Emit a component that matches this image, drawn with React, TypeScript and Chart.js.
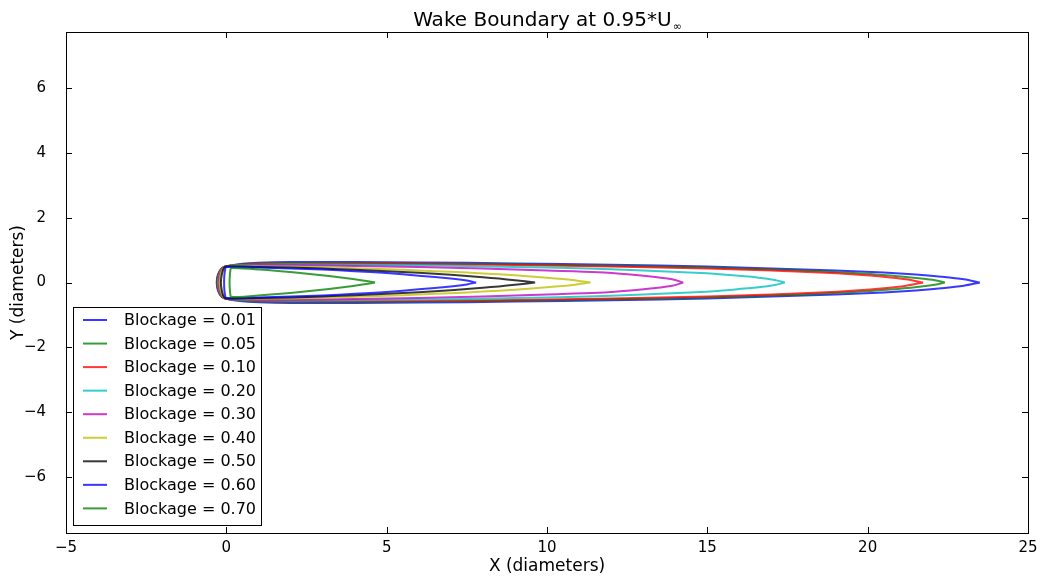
import React, { useEffect, useRef } from 'react';
import { Chart, registerables } from 'chart.js';

Chart.register(...registerables);

const TITLE_MAIN = 'Wake Boundary at 0.95*U';
const TITLE_SUB = '∞';
const X_LABEL = 'X (diameters)';
const Y_LABEL = 'Y (diameters)';

const xTicks = [-5, 0, 5, 10, 15, 20, 25];
const yTicks = [-6, -4, -2, 0, 2, 4, 6];
const xRange = [-5, 25];
const yRange = [-7.73, 7.73];

const blockageLabels = [
  'Blockage = 0.01',
  'Blockage = 0.05',
  'Blockage = 0.10',
  'Blockage = 0.20',
  'Blockage = 0.30',
  'Blockage = 0.40',
  'Blockage = 0.50',
  'Blockage = 0.60',
  'Blockage = 0.70',
];

const lineColors = [
  'rgba(0,0,255,0.78)',
  'rgba(0,128,0,0.78)',
  'rgba(255,0,0,0.78)',
  'rgba(0,191,191,0.78)',
  'rgba(191,0,191,0.78)',
  'rgba(191,191,0,0.78)',
  'rgba(0,0,0,0.78)',
  'rgba(0,0,255,0.78)',
  'rgba(0,128,0,0.78)',
];

// front (upstream) edge of each wake loop: nose on the centreline and two arc points
const frontX = [-0.3, -0.29, -0.28, -0.26, -0.24, -0.21, -0.17, -0.07, 0.1];
const frontArcX1 = [-0.26, -0.25, -0.24, -0.22, -0.2, -0.18, -0.14, -0.06, 0.11];
const frontArcY1 = [0.25, 0.25, 0.25, 0.25, 0.25, 0.25, 0.25, 0.25, 0.22];
const frontArcX2 = [-0.14, -0.14, -0.13, -0.12, -0.11, -0.1, -0.08, -0.03, 0.13];
const frontArcY2 = [0.44, 0.44, 0.44, 0.44, 0.44, 0.44, 0.44, 0.43, 0.4];

// upper branch of each wake boundary (mirror image below the axis)
const upperX001 = [0, 0.5, 1, 2, 4, 6, 9, 12, 15, 17, 19, 20.5, 21.5, 22.3, 23, 23.5];
const upperY001 = [0.5, 0.58, 0.61, 0.63, 0.63, 0.62, 0.59, 0.55, 0.49, 0.43, 0.37, 0.31, 0.25, 0.18, 0.1, 0];

const upperX005 = [0, 0.5, 1, 2, 4, 6, 9, 12, 15, 17, 18.5, 19.8, 20.8, 21.6, 22.1, 22.41];
const upperY005 = [0.5, 0.56, 0.59, 0.6, 0.6, 0.59, 0.56, 0.52, 0.46, 0.4, 0.35, 0.28, 0.21, 0.13, 0.07, 0];

const upperX010 = [0, 0.5, 1, 2, 4, 6, 9, 12, 15, 17, 18.5, 19.6, 20.5, 21.2, 21.73];
const upperY010 = [0.5, 0.55, 0.57, 0.58, 0.58, 0.57, 0.54, 0.49, 0.43, 0.37, 0.31, 0.25, 0.18, 0.1, 0];

const upperX020 = [0, 0.5, 1, 2, 4, 6, 9, 11, 13, 14.8, 15.8, 16.6, 17.1, 17.42];
const upperY020 = [0.5, 0.54, 0.55, 0.56, 0.55, 0.53, 0.48, 0.44, 0.37, 0.29, 0.22, 0.15, 0.08, 0];

const upperX030 = [0, 0.5, 1, 2, 4, 6, 8, 10, 11.6, 12.6, 13.3, 13.9, 14.25];
const upperY030 = [0.5, 0.52, 0.53, 0.53, 0.51, 0.48, 0.43, 0.37, 0.32, 0.25, 0.18, 0.1, 0];

const upperX040 = [0, 1, 2, 3, 4, 5, 6, 7, 8, 9, 10, 10.8, 11.36];
const upperY040 = [0.5, 0.5, 0.49, 0.47, 0.44, 0.41, 0.37, 0.33, 0.28, 0.22, 0.15, 0.08, 0];

const upperX050 = [0, 1, 2, 3, 4, 5, 6, 7, 8, 8.5, 9, 9.63];
const upperY050 = [0.5, 0.48, 0.46, 0.43, 0.39, 0.35, 0.3, 0.24, 0.16, 0.12, 0.07, 0];

const upperX060 = [0, 1, 2, 3, 4, 5, 6, 7, 7.5, 7.79];
const upperY060 = [0.48, 0.46, 0.43, 0.4, 0.35, 0.29, 0.21, 0.12, 0.06, 0];

const upperX070 = [0.15, 0.9, 1.7, 2.45, 3.2, 3.7, 4.2, 4.64];
const upperY070 = [0.45, 0.41, 0.35, 0.28, 0.2, 0.14, 0.07, 0];

const upperXs = [upperX001, upperX005, upperX010, upperX020, upperX030, upperX040, upperX050, upperX060, upperX070];
const upperYs = [upperY001, upperY005, upperY010, upperY020, upperY030, upperY040, upperY050, upperY060, upperY070];

function buildLoop(i: number) {
  const ux = upperXs[i];
  const uy = upperYs[i];
  const pts: { x: number; y: number }[] = [];
  for (let k = ux.length - 1; k >= 0; k--) pts.push({ x: ux[k], y: uy[k] });
  pts.push({ x: frontArcX2[i], y: frontArcY2[i] });
  pts.push({ x: frontArcX1[i], y: frontArcY1[i] });
  pts.push({ x: frontX[i], y: 0 });
  pts.push({ x: frontArcX1[i], y: -frontArcY1[i] });
  pts.push({ x: frontArcX2[i], y: -frontArcY2[i] });
  for (let k = 0; k < ux.length; k++) pts.push({ x: ux[k], y: -uy[k] });
  return pts;
}

const FONT = "'DejaVu Sans', 'Liberation Sans', sans-serif";

const fmt = (v: number) => (v < 0 ? '\u2212' + Math.abs(v) : String(v));

const decorPlugin = {
  id: 'decor',
  afterDraw(chart: any) {
    const { ctx, chartArea } = chart;
    const { left, right, top, bottom } = chartArea;
    const xs = chart.scales.x;
    const ys = chart.scales.y;
    ctx.save();
    // frame
    ctx.strokeStyle = '#000';
    ctx.lineWidth = 1;
    ctx.strokeRect(Math.round(left) + 0.5, Math.round(top) + 0.5, Math.round(right - left), Math.round(bottom - top));
    // inward ticks
    const tl = 6;
    ctx.beginPath();
    xTicks.forEach((v) => {
      const px = Math.round(xs.getPixelForValue(v)) + 0.5;
      ctx.moveTo(px, bottom);
      ctx.lineTo(px, bottom - tl);
      ctx.moveTo(px, top);
      ctx.lineTo(px, top + tl);
    });
    yTicks.forEach((v) => {
      const py = Math.round(ys.getPixelForValue(v)) + 0.5;
      ctx.moveTo(left, py);
      ctx.lineTo(left + tl, py);
      ctx.moveTo(right, py);
      ctx.lineTo(right - tl, py);
    });
    ctx.stroke();

    const cx = (left + right) / 2;
    // title
    ctx.fillStyle = '#000';
    ctx.font = `20px ${FONT}`;
    const mainW = ctx.measureText(TITLE_MAIN).width;
    ctx.font = `11px ${FONT}`;
    const subW = ctx.measureText(TITLE_SUB).width;
    const startX = cx - (mainW + subW) / 2;
    ctx.textBaseline = 'alphabetic';
    ctx.textAlign = 'left';
    ctx.font = `20px ${FONT}`;
    ctx.fillText(TITLE_MAIN, startX, 26);
    ctx.font = `11px ${FONT}`;
    ctx.fillText(TITLE_SUB, startX + mainW + 1, 30);

    // axis labels
    ctx.font = `17px ${FONT}`;
    ctx.textAlign = 'center';
    ctx.textBaseline = 'middle';
    ctx.fillText(X_LABEL, cx, 567);
    ctx.save();
    ctx.translate(19, (top + bottom) / 2);
    ctx.rotate(-Math.PI / 2);
    ctx.fillText(Y_LABEL, 0, 0);
    ctx.restore();

    // legend
    const bx = 73.5, by = 307.5, bw = 188, bh = 218;
    ctx.fillStyle = '#fff';
    ctx.fillRect(bx, by, bw, bh);
    ctx.strokeStyle = '#000';
    ctx.lineWidth = 1;
    ctx.strokeRect(bx, by, bw, bh);
    ctx.font = `16px ${FONT}`;
    ctx.textAlign = 'left';
    ctx.textBaseline = 'middle';
    chart.data.datasets.forEach((ds: any, i: number) => {
      const ry = 320 + i * 23.55;
      ctx.strokeStyle = ds.borderColor;
      ctx.lineWidth = 2;
      ctx.beginPath();
      ctx.moveTo(83, ry);
      ctx.lineTo(107, ry);
      ctx.stroke();
      ctx.fillStyle = '#000';
      ctx.fillText(ds.label, 124, ry + 1);
    });
    ctx.restore();
  },
};

export default function App() {
  const ref = useRef<HTMLCanvasElement | null>(null);
  useEffect(() => {
    if (!ref.current) return;
    const datasets = blockageLabels.map((label, i) => ({
      label,
      data: buildLoop(i),
      borderColor: lineColors[i],
      backgroundColor: lineColors[i],
      borderWidth: 2,
      pointRadius: 0,
      showLine: true,
      fill: false,
      tension: 0.3,
      order: -i,
    }));
    const chart = new Chart(ref.current, {
      type: 'scatter',
      data: { datasets },
      options: {
        responsive: false,
        animation: false,
        devicePixelRatio: 1,
        layout: { padding: { top: 32, right: 16, left: 0, bottom: 0 } },
        plugins: { legend: { display: false }, title: { display: false }, tooltip: { enabled: false } },
        scales: {
          x: {
            type: 'linear',
            min: xRange[0],
            max: xRange[1],
            grid: { display: false, drawTicks: false },
            border: { display: false },
            afterBuildTicks: (s: any) => {
              s.ticks = xTicks.map((v) => ({ value: v }));
            },
            afterFit: (s: any) => {
              s.height = 45;
            },
            ticks: {
              padding: 6,
              color: '#000',
              font: { family: FONT, size: 15 },
              maxRotation: 0,
              autoSkip: false,
              callback: (v: any) => fmt(Number(v)),
            },
          },
          y: {
            type: 'linear',
            min: yRange[0],
            max: yRange[1],
            grid: { display: false, drawTicks: false },
            border: { display: false },
            afterBuildTicks: (s: any) => {
              s.ticks = yTicks.map((v) => ({ value: v }));
            },
            afterFit: (s: any) => {
              s.width = 66;
            },
            ticks: {
              padding: 20,
              color: '#000',
              font: { family: FONT, size: 15 },
              autoSkip: false,
              callback: (v: any) => fmt(Number(v)),
            },
          },
        },
      },
      plugins: [decorPlugin],
    });
    return () => chart.destroy();
  }, []);
  return (
    <div style={{ position: 'absolute', left: 0, top: 0, width: 1044, height: 578, background: '#fff' }}>
      <canvas ref={ref} width={1044} height={578} style={{ width: 1044, height: 578 }} />
    </div>
  );
}
